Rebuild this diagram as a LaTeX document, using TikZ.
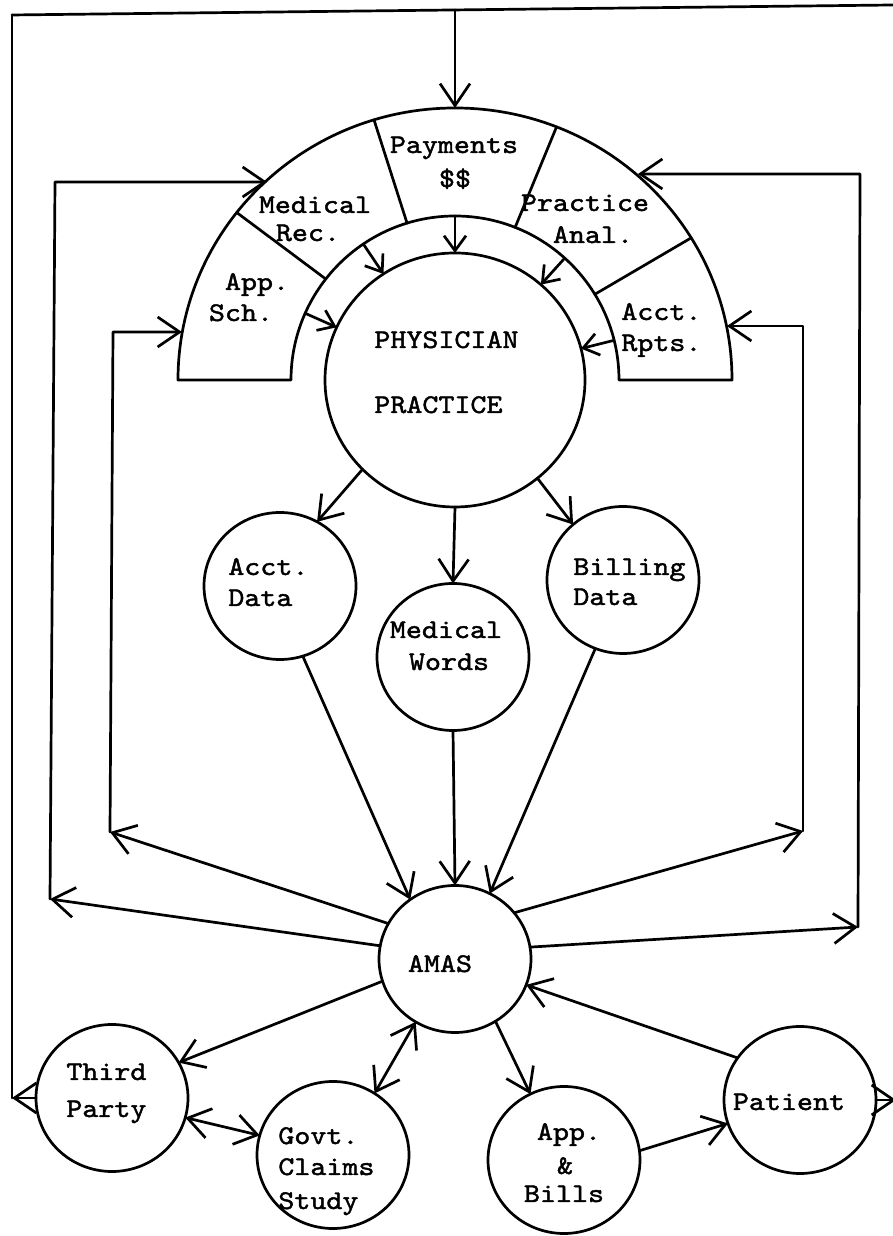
\documentclass[tikz,border=0pt]{standalone}
\usepackage{fontspec}
\newfontfamily\typew{lmmono10-regular.otf}[FakeStretch=1.13,FakeBold=1.6]
\usetikzlibrary{arrows.meta,shapes.geometric}

\begin{document}
\begin{tikzpicture}[x=1pt,y=1pt,
  line width=2.7pt, line cap=round, line join=round,
  arr/.style={-{Straight Barb[length=22pt,width=30pt]}},
  biarr/.style={{Straight Barb[length=22pt,width=30pt]}-{Straight Barb[length=22pt,width=30pt]}},
  garr/.style={-{Straight Barb[length=15pt,width=22pt]}},
  bub/.style={draw, ellipse, minimum width=152pt, minimum height=147pt, inner sep=0pt, outer sep=0pt},
  lbl/.style={inner sep=0pt, font=\typew\fontsize{27pt}{31pt}\selectfont},
]
\fill[white] (0,0) rectangle (893,1236);
\useasboundingbox (0,0) rectangle (893,1236);

% ---- bubbles ----
\node[draw, ellipse, minimum width=260pt, minimum height=254pt, inner sep=0pt, outer sep=0pt] (pp) at (455,856) {};
\node[bub] (ad)   at (280,650) {};
\node[bub] (mw)   at (453,579) {};
\node[bub] (bd)   at (623,656) {};
\node[bub] (amas) at (455,277) {};
\node[bub] (tp)   at (112,138) {};
\node[bub] (gv)   at (333,81)  {};
\node[bub] (ab)   at (564,76)  {};
\node[bub] (pat)  at (800,136) {};

% ---- arch of services around the practice ----
\draw ([shift={(pp.center)}]0:164pt) -- ([shift={(pp.center)}]0:277pt and 272pt)
  arc[start angle=0, end angle=180, x radius=277pt, y radius=272pt]
  -- ([shift={(pp.center)}]180:164pt)
  arc[start angle=180, end angle=0, radius=164pt] -- cycle;
\foreach \a in {31.5,68.5,107,142}
  \draw ([shift={(pp.center)}]\a:164pt) -- ([shift={(pp.center)}]\a:277pt and 272pt);
\foreach \a in {14,48,90,124,156}
  \draw[garr] ([shift={(pp.center)}]\a:164pt) -- (pp.\a);

% ---- texts ----
\node[lbl, anchor=base] (t-pay1) at (454,1083) {Payments};
\node[lbl, anchor=base] (t-pay2) at (455,1049) {\$\$};
\node[lbl, anchor=base] (t-med1) at (315,1023) {Medical};
\node[lbl, anchor=base] (t-med2) at (308,995) {Rec.};
\node[lbl, anchor=base] (t-pra1) at (585,1025) {Practice};
\node[lbl, anchor=base] (t-pra2) at (593,993) {Anal.};
\node[lbl, anchor=base] (t-app1) at (257,946) {App.};
\node[lbl, anchor=base] (t-app2) at (241,915) {Sch.};
\node[lbl, anchor=base west] (t-acr1) at (620,916) {Acct.};
\node[lbl, anchor=base west] (t-acr2) at (620,885) {Rpts.};
\node[lbl, anchor=base west] (t-pp1) at (373,888) {PHYSICIAN};
\node[lbl, anchor=base west] (t-pp2) at (373,823) {PRACTICE};
\node[lbl, anchor=base west] (t-ad1) at (227,661) {Acct.};
\node[lbl, anchor=base west] (t-ad2) at (227,630) {Data};
\node[lbl, anchor=base] (t-mw1) at (446,598) {Medical};
\node[lbl, anchor=base] (t-mw2) at (449,566) {Words};
\node[lbl, anchor=base west] (t-bd1) at (572,661) {Billing};
\node[lbl, anchor=base west] (t-bd2) at (572,631) {Data};
\node[lbl, anchor=base] (t-amas) at (440,264) {AMAS};
\node[lbl, anchor=base west] (t-tp1) at (65,156) {Third};
\node[lbl, anchor=base west] (t-tp2) at (65,119) {Party};
\node[lbl, anchor=base west] (t-gv1) at (277,92) {Govt.};
\node[lbl, anchor=base west] (t-gv2) at (277,61) {Claims};
\node[lbl, anchor=base west] (t-gv3) at (277,27) {Study};
\node[lbl, anchor=base] (t-ab1) at (569,96) {App.};
\node[lbl, anchor=base] (t-ab2) at (565,62) {\&};
\node[lbl, anchor=base] (t-ab3) at (564,34) {Bills};
\node[lbl, anchor=base] (t-pat) at (789,126) {Patient};

% ---- outer return loop ----
\coordinate (tl) at (12,1221);
\coordinate (tr) at (893,1231);
\coordinate (tm) at (455,1226);
\coordinate (archtop) at (455,1128);
\coordinate (ol) at (12,138);
\coordinate (pr) at (896,136);
\draw (tl) -- (tr);
\draw[arr] (tm) -- (archtop);
\draw[arr] (tp.west) -- (ol);
\draw (ol) -- (tl);
\draw[arr] (pat.east) -- (pr);

% ---- side loops from AMAS back to the arch ----
\coordinate (l2b) at (50,337);  \coordinate (l2t) at (55,1054);  \coordinate (l2a) at (267,1054);
\coordinate (l3b) at (110,404); \coordinate (l3t) at (113,904);  \coordinate (l3a) at (182,904);
\coordinate (r2b) at (858,309); \coordinate (r2t) at (860,1062); \coordinate (r2a) at (638,1062);
\coordinate (r3b) at (803,405); \coordinate (r3t) at (803,910);  \coordinate (r3a) at (727,910);
\draw[arr] (amas.170) -- (l2b);
\draw[arr] (l2b) -- (l2t) -- (l2a);
\draw[arr] (amas.152) -- (l3b);
\draw[arr] (l3b) -- (l3t) -- (l3a);
\draw[arr] (amas.9) -- (r2b);
\draw[arr] (r2b) -- (r2t) -- (r2a);
\draw[arr] (amas.38) -- (r3b);
\draw[arr] (r3b) -- (r3t) -- (r3a);

% ---- data flows ----
\draw[arr] (pp.224) -- (ad.60);
\draw[arr] (pp.south) -- (mw.north);
\draw[arr] (pp.310) -- (bd.132);
\draw[arr] (ad.-72) -- (amas.127);
\draw[arr] (mw.south) -- (amas.north);
\draw[arr] (bd.248) -- (amas.62);

% ---- outputs of AMAS ----
\draw[arr] (amas.197) -- (tp.28);
\draw[biarr] (tp.-15) -- (gv.165);
\draw[biarr] (amas.238) -- (gv.56);
\draw[arr] (amas.-57) -- (ab.117);
\draw[arr] (ab.7) -- (pat.198);
\draw[arr] (pat.146) -- (amas.-20);
\end{tikzpicture}
\end{document}
